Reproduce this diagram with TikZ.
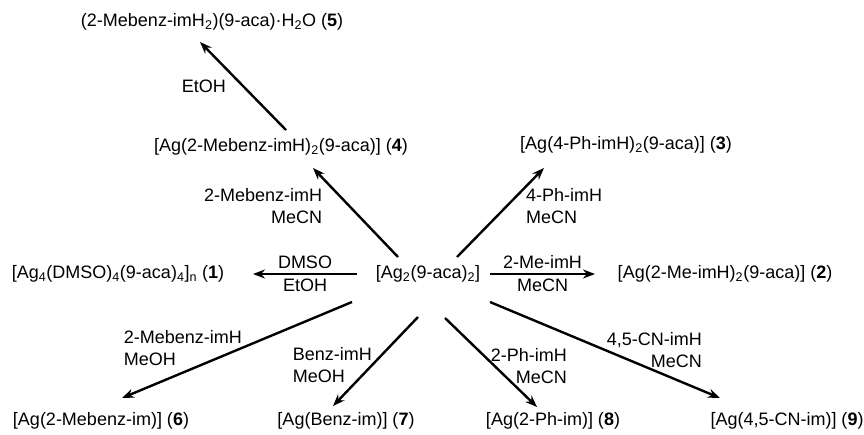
\documentclass[tikz,border=0pt]{standalone}
\usepackage{fontspec}
\setmainfont{Liberation Sans}
\usetikzlibrary{arrows.meta}

\begin{document}
\begin{tikzpicture}
[x=1pt, y=-1pt, font=\fontsize{18}{22}\selectfont]
\tikzstyle{compound}=[inner sep=0mm]
\tikzstyle{cond}=[inner sep=0mm, font=\fontsize{18}{22}\selectfont]
\tikzstyle{rxn}=[line width=2.4pt, -{Stealth[length=12pt, width=9pt]}]
\useasboundingbox (0,0) rectangle (864,434);

\node[compound]	(Ag)	at (428,274)	{[Ag\textsubscript{2}(9-aca)\textsubscript{2}]};
\node[compound]	(P1)	at (118,274)	{[Ag\textsubscript{4}(DMSO)\textsubscript{4}(9-aca)\textsubscript{4}]\textsubscript{n} (\textbf{1})};
\node[compound]	(P2)	at (725,274)	{[Ag(2-Me-imH)\textsubscript{2}(9-aca)] (\textbf{2})};
\node[compound]	(P3)	at (626,145)	{[Ag(4-Ph-imH)\textsubscript{2}(9-aca)] (\textbf{3})};
\node[compound]	(P4)	at (281,147)	{[Ag(2-Mebenz-imH)\textsubscript{2}(9-aca)] (\textbf{4})};
\node[compound]	(P5)	at (212,22)	{(2-Mebenz-imH\textsubscript{2})(9-aca)·H\textsubscript{2}O (\textbf{5})};
\node[compound]	(P6)	at (101,421)	{[Ag(2-Mebenz-im)] (\textbf{6})};
\node[compound]	(P7)	at (346,421)	{[Ag(Benz-im)] (\textbf{7})};
\node[compound]	(P8)	at (553,421)	{[Ag(2-Ph-im)] (\textbf{8})};
\node[compound]	(P9)	at (787,421)	{[Ag(4,5-CN-im)] (\textbf{9})};

\draw[rxn]	([shift={(-71,0)}]Ag.center) -- node[cond, midway, above=4pt] (c1a) {DMSO} node[cond, midway, below=4pt] (c1b) {EtOH} ([shift={(135,0)}]P1.center);
\draw[rxn]	([shift={(62,0)}]Ag.center) -- node[cond, midway, above=4pt] (c2a) {2-Me-imH} node[cond, midway, below=4pt] (c2b) {MeCN} ([shift={(-130,0)}]P2.center);
\draw[rxn]	([shift={(29,-17)}]Ag.center) -- node[cond, pos=0.573, anchor=west, xshift=18pt, align=left] (c3) {4-Ph-imH\\MeCN} ([shift={(-82,23)}]P3.center);
\draw[rxn]	([shift={(-30,-17)}]Ag.center) -- node[cond, pos=0.573, anchor=east, xshift=-26pt, align=right] (c4) {2-Mebenz-imH\\MeCN} ([shift={(32,21)}]P4.center);
\draw[rxn]	([shift={(5,-17)}]P4.center) -- node[cond, midway, anchor=east, xshift=-16pt] (c5) {EtOH} ([shift={(-12,20)}]P5.center);
\draw[rxn]	([shift={(-76,28)}]Ag.center) -- node[cond, pos=0.484, anchor=west, xshift=-118pt, align=left] (c6) {2-Mebenz-imH\\MeOH} ([shift={(21,-23)}]P6.center);
\draw[rxn]	([shift={(-10,43)}]Ag.center) -- node[cond, pos=0.545, anchor=west, xshift=-80pt, align=left] (c7) {Benz-imH\\MeOH} ([shift={(-13,-15)}]P7.center);
\draw[rxn]	([shift={(17,44)}]Ag.center) -- node[cond, pos=0.545, anchor=east, xshift=73pt, align=right] (c8) {2-Ph-imH\\MeCN} ([shift={(-16,-14)}]P8.center);
\draw[rxn]	([shift={(62,28)}]Ag.center) -- node[cond, pos=0.505, anchor=east, xshift=97pt, align=right] (c9) {4,5-CN-imH\\MeCN} ([shift={(-67,-23)}]P9.center);
\end{tikzpicture}
\end{document}
